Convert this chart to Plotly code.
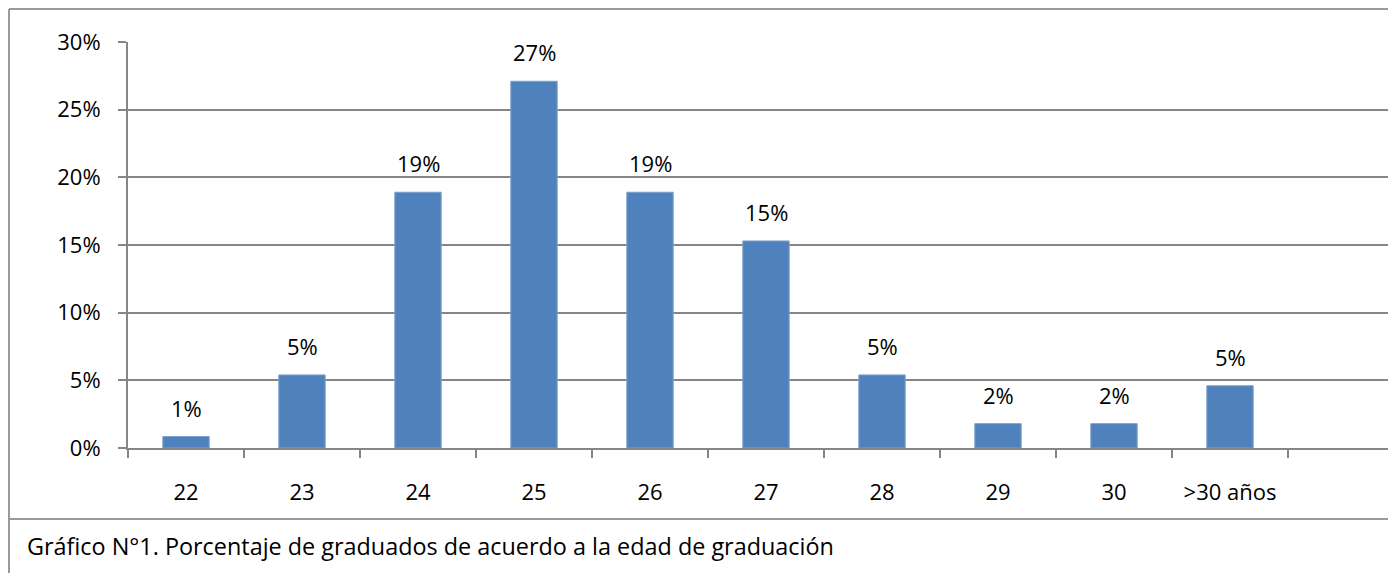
import plotly.graph_objects as go

# Edad de graduación y porcentaje de graduados
edades = ['22', '23', '24', '25', '26', '27', '28', '29', '30', '>30 años']
porcentajes = [0.0085, 0.054, 0.189, 0.271, 0.189, 0.153, 0.054, 0.018, 0.018, 0.046]
y_ticks = [0, 0.05, 0.10, 0.15, 0.20, 0.25, 0.30]

caption = 'Gráfico N°1. Porcentaje de graduados de acuerdo a la edad de graduación'

FONT = 'Open Sans'
GRAY = '#868686'
BAR_COLOR = '#4F81BD'

# la página añade 8px de margen al cuerpo (arriba y abajo)
OFF = 8
W, H = 1396 - OFF, 581 - 2 * OFF
ML, MT = 128 - OFF, 42 - OFF
MB = H - (448 - OFF)
plot_w = W - ML
plot_h = H - MT - MB


def px_x(x):
    # pixel de la captura -> coordenada paper x
    return (x - OFF - ML) / plot_w


def px_y(y):
    # pixel de la captura -> coordenada paper y
    return (H - MB - (y - OFF)) / plot_h


fig = go.Figure(go.Bar(
    x=edades,
    y=porcentajes,
    marker=dict(color=BAR_COLOR, line=dict(color='#7EA1CE', width=1)),
    hoverinfo='skip',
))

# etiquetas de datos sobre las barras
for i, p in enumerate(porcentajes):
    fig.add_annotation(
        x=i, y=p, text=f'{int(p * 100 + 0.5)}%', showarrow=False,
        yanchor='bottom', yshift=12,
        font=dict(family=FONT, size=22, color='#000000'),
    )

# pie de figura
fig.add_annotation(
    x=px_x(25), y=px_y(546), xref='paper', yref='paper',
    text=caption, showarrow=False, xanchor='left', yanchor='middle',
    font=dict(family=FONT, size=23.4, color='#000000'),
)

# marco del gráfico y del pie
border = dict(color='#9A9A9A', width=2)
fig.add_shape(type='line', xref='paper', yref='paper',
              x0=px_x(9), x1=px_x(9), y0=px_y(9), y1=px_y(600), line=border)
fig.add_shape(type='line', xref='paper', yref='paper',
              x0=px_x(9), x1=1.02, y0=px_y(9), y1=px_y(9), line=border)
fig.add_shape(type='line', xref='paper', yref='paper',
              x0=px_x(9), x1=1.02, y0=px_y(519), y1=px_y(519), line=border)

fig.update_layout(
    width=W, height=H,
    margin=dict(l=ML, r=0, t=MT, b=MB),
    paper_bgcolor='white', plot_bgcolor='white',
    bargap=0.6,
    showlegend=False,
    font=dict(family=FONT, size=22, color='#000000'),
)

fig.update_xaxes(
    type='category',
    range=[-0.5, -0.5 + plot_w / 116],
    showline=True, linecolor=GRAY, linewidth=2,
    ticks='outside', tickson='boundaries', ticklen=8, tickcolor=GRAY, tickwidth=2,
    ticklabelstandoff=24,
    showgrid=False, automargin=False,
    tickfont=dict(family=FONT, size=22, color='#000000'),
)
fig.update_yaxes(
    range=[0, 0.30],
    tickvals=y_ticks, tickformat='.0%',
    showline=True, linecolor=GRAY, linewidth=2,
    ticks='outside', ticklen=8, tickcolor=GRAY, tickwidth=2,
    ticklabelstandoff=13,
    showgrid=True, gridcolor=GRAY, gridwidth=2,
    zeroline=False, automargin=False,
    tickfont=dict(family=FONT, size=22, color='#000000'),
)

fig.write_html('out.html')
